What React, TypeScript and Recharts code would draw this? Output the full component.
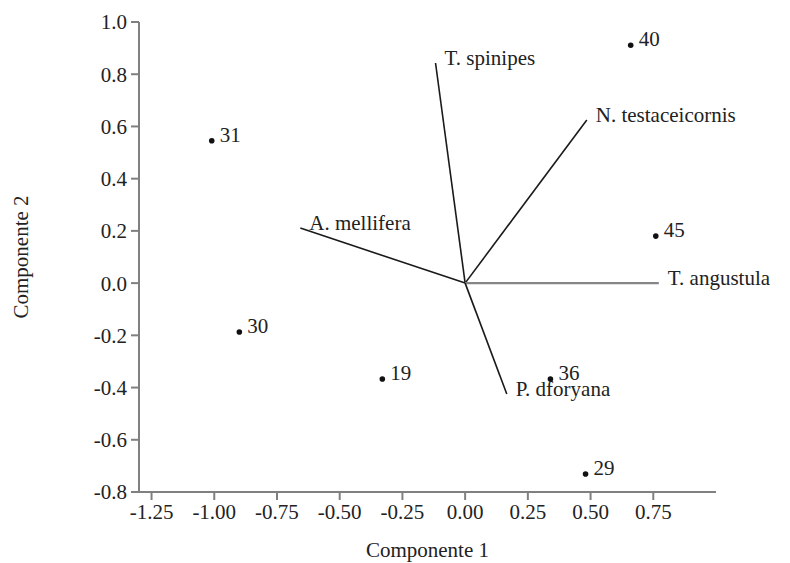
import React from "react";
import { ScatterChart, Scatter, XAxis, YAxis, ReferenceLine } from "recharts";

// sample scores (component 1, component 2)
const sampleIds = ["31", "30", "19", "36", "29", "40", "45"];
const sampleX = [-1.01, -0.9, -0.33, 0.34, 0.48, 0.66, 0.76];
const sampleY = [0.545, -0.187, -0.367, -0.367, -0.731, 0.911, 0.18];

// species loadings (vector end points)
const species = ["T. spinipes", "N. testaceicornis", "A. mellifera", "T. angustula", "P. dforyana"];
const loadX = [-0.118, 0.485, -0.657, 0.772, 0.166];
const loadY = [0.843, 0.625, 0.211, 0, -0.425];

const xTicks = [-1.25, -1.0, -0.75, -0.5, -0.25, 0, 0.25, 0.5, 0.75];
const yTicks = [-0.8, -0.6, -0.4, -0.2, 0, 0.2, 0.4, 0.6, 0.8, 1.0];

const FONT = "'Liberation Serif', 'Times New Roman', serif";
const AXIS_GRAY = "#808080";

const samples = sampleIds.map((id, i) => ({ id, x: sampleX[i], y: sampleY[i] }));
const loadings = species.map((name, i) => ({ name, x: loadX[i], y: loadY[i] }));

const SampleDot = (props: any) => {
  const { cx, cy, payload } = props;
  return (
    <g>
      <circle cx={cx} cy={cy} r={2.8} fill="#111" />
      <text x={cx + 8} y={cy + 1} fontSize={21} fontFamily={FONT} fill="#222">
        {payload.id}
      </text>
    </g>
  );
};

const LoadingLabel = (props: any) => {
  const { cx, cy, payload } = props;
  return (
    <text x={cx + 9} y={cy + 2} fontSize={21} fontFamily={FONT} fill="#222">
      {payload.name}
    </text>
  );
};

const XTitle = (props: any) => {
  const vb = props.viewBox;
  return (
    <text x={vb.x + vb.width / 2} y={557} textAnchor="middle" fontSize={21} fontFamily={FONT} fill="#222">
      Componente 1
    </text>
  );
};

const YTitle = (props: any) => {
  const vb = props.viewBox;
  const cy = vb.y + vb.height / 2;
  return (
    <text
      x={28}
      y={cy}
      transform={`rotate(-90, 28, ${cy})`}
      textAnchor="middle"
      fontSize={21}
      fontFamily={FONT}
      fill="#222"
    >
      Componente 2
    </text>
  );
};

export default function App() {
  const tickStyle = { fill: "#222", fontSize: 21, fontFamily: FONT };
  const lineStyle = { stroke: AXIS_GRAY, strokeWidth: 2 };

  return (
    <div style={{ position: "absolute", left: 0, top: 0, background: "#fff" }}>
      <ScatterChart width={790} height={563} margin={{ top: 22, right: 74, bottom: 31, left: 79 }}>
        <XAxis
          type="number"
          dataKey="x"
          domain={[-1.3, 1.0]}
          ticks={xTicks}
          tickFormatter={(v: number) => v.toFixed(2)}
          tick={tickStyle}
          axisLine={lineStyle}
          tickLine={lineStyle}
          tickSize={8}
          tickMargin={4}
          height={40}
          interval={0}
          label={<XTitle />}
        />
        <YAxis
          type="number"
          dataKey="y"
          domain={[-0.8, 1.0]}
          ticks={yTicks}
          tickFormatter={(v: number) => v.toFixed(1)}
          tick={tickStyle}
          axisLine={lineStyle}
          tickLine={lineStyle}
          tickSize={8}
          tickMargin={4}
          width={60}
          interval={0}
          label={<YTitle />}
        />
        {loadings.map((l) => (
          <ReferenceLine
            key={l.name}
            segment={[{ x: 0, y: 0 }, { x: l.x, y: l.y }]}
            stroke={l.name === "T. angustula" ? "#858585" : "#1a1a1a"}
            strokeWidth={l.name === "T. angustula" ? 2.2 : 1.6}
          />
        ))}
        <Scatter data={loadings} shape={<LoadingLabel />} isAnimationActive={false} />
        <Scatter data={samples} shape={<SampleDot />} isAnimationActive={false} />
      </ScatterChart>
    </div>
  );
}
